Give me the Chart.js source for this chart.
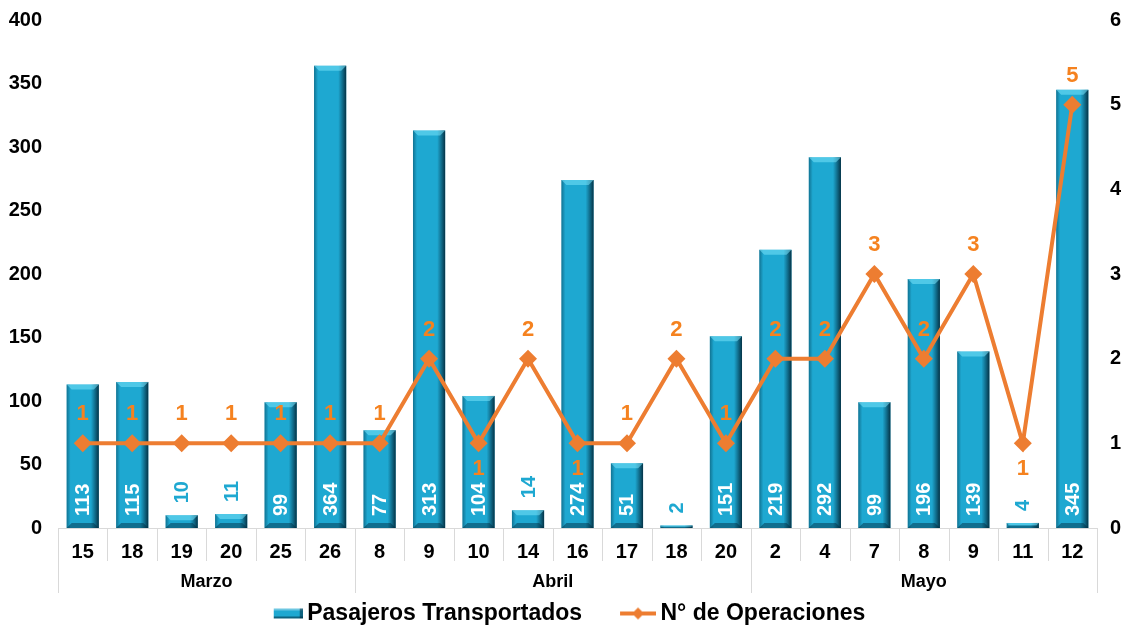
<!DOCTYPE html>
<html>
<head>
<meta charset="utf-8">
<script src="https://cdn.jsdelivr.net/npm/chart.js@4/dist/chart.umd.min.js"></script>
<style>
  html, body { margin: 0; padding: 0; background: #fff; }
  #wrap { width: 1127px; height: 629px; position: relative; }
</style>
</head>
<body>
<div id="wrap"><canvas id="myChart"></canvas></div>
<script>
const days = ['15', '18', '19', '20', '25', '26', '8', '9', '10', '14', '16', '17', '18', '20', '2', '4', '7', '8', '9', '11', '12'];
const months = ['Marzo', 'Abril', 'Mayo'];
const monthSizes = [6, 8, 7];
const pasajeros = [113, 115, 10, 11, 99, 364, 77, 313, 104, 14, 274, 51, 2, 151, 219, 292, 99, 196, 139, 4, 345];
const operaciones = [1, 1, 1, 1, 1, 1, 1, 2, 1, 2, 1, 1, 2, 1, 2, 2, 3, 2, 3, 1, 5];
// points whose label sits under the marker
const labelsBelow = [8, 10, 19];

const FONT = '"Liberation Sans", Arial, sans-serif';
const BAR_COLOR = '#1EA8D1';
const LINE_COLOR = '#ED7D31';
const LINE_LABEL_COLOR = '#F5821F';
const GRID_COLOR = '#D9D9D9';

function makeBarIcon() {
  const c = document.createElement('canvas');
  c.width = 48;
  c.height = 16;
  const g = c.getContext('2d');
  const x = 19, y = 3, w = 29, h = 10;
  g.fillStyle = BAR_COLOR;
  g.fillRect(x, y, w, h);
  g.fillStyle = 'rgba(255,255,255,0.35)';
  g.fillRect(x, y, w, 2);
  g.fillStyle = 'rgba(0,40,60,0.55)';
  g.fillRect(x, y + h - 2, w, 2);
  g.fillRect(x + w - 3, y, 3, h);
  return c;
}

function makeLineIcon() {
  const c = document.createElement('canvas');
  c.width = 48;
  c.height = 16;
  const g = c.getContext('2d');
  g.strokeStyle = LINE_COLOR;
  g.lineWidth = 4;
  g.beginPath();
  g.moveTo(12, 8);
  g.lineTo(48, 8);
  g.stroke();
  g.fillStyle = LINE_COLOR;
  g.beginPath();
  g.moveTo(30, 2);
  g.lineTo(36, 8);
  g.lineTo(30, 14);
  g.lineTo(24, 8);
  g.closePath();
  g.fill();
  return c;
}

// shading to give the bars the bevelled look
const barShade = {
  id: 'barShade',
  afterDatasetDraw(chart, args) {
    if (args.index !== 0) return;
    const ctx = chart.ctx;
    const meta = args.meta;
    ctx.save();
    meta.data.forEach(bar => {
      const left = bar.x - bar.width / 2;
      const right = bar.x + bar.width / 2;
      const top = bar.y;
      const bottom = bar.base;
      const h = bottom - top;
      if (h <= 0) return;
      const bev = Math.min(5, h / 2);
      let gr = ctx.createLinearGradient(right - 8, 0, right, 0);
      gr.addColorStop(0, 'rgba(0,40,60,0)');
      gr.addColorStop(1, 'rgba(0,30,45,0.85)');
      ctx.fillStyle = gr;
      ctx.fillRect(right - 8, top, 8, h);
      gr = ctx.createLinearGradient(left, 0, left + 4, 0);
      gr.addColorStop(0, 'rgba(0,50,70,0.45)');
      gr.addColorStop(1, 'rgba(0,50,70,0)');
      ctx.fillStyle = gr;
      ctx.fillRect(left, top, 4, h);
      ctx.fillStyle = 'rgba(120,225,250,0.55)';
      ctx.beginPath();
      ctx.moveTo(left, top);
      ctx.lineTo(right, top);
      ctx.lineTo(right - bev, top + bev);
      ctx.lineTo(left + bev, top + bev);
      ctx.closePath();
      ctx.fill();
      ctx.fillStyle = 'rgba(0,40,60,0.45)';
      ctx.beginPath();
      ctx.moveTo(left + bev, bottom - bev);
      ctx.lineTo(right - bev, bottom - bev);
      ctx.lineTo(right, bottom);
      ctx.lineTo(left, bottom);
      ctx.closePath();
      ctx.fill();
    });
    ctx.restore();
  }
};

// value labels for bars and line points
const valueLabels = {
  id: 'valueLabels',
  afterDatasetsDraw(chart) {
    const ctx = chart.ctx;
    ctx.save();
    ctx.font = 'bold 20px ' + FONT;
    const bars = chart.getDatasetMeta(0).data;
    bars.forEach((bar, i) => {
      const text = String(pasajeros[i]);
      const h = bar.base - bar.y;
      const tw = ctx.measureText(text).width;
      ctx.save();
      ctx.textBaseline = 'middle';
      ctx.textAlign = 'left';
      let start;
      if (h > tw + 20) {
        ctx.fillStyle = '#FFFFFF';
        start = bar.base - 12;
      } else {
        ctx.fillStyle = BAR_COLOR;
        start = bar.y - 12;
      }
      ctx.translate(bar.x, start);
      ctx.rotate(-Math.PI / 2);
      ctx.fillText(text, 0, 1);
      ctx.restore();
    });
    ctx.font = 'bold 22px ' + FONT;
    ctx.fillStyle = LINE_LABEL_COLOR;
    ctx.textAlign = 'center';
    ctx.textBaseline = 'middle';
    chart.getDatasetMeta(1).data.forEach((pt, i) => {
      const dy = labelsBelow.includes(i) ? 26 : -29;
      ctx.fillText(String(operaciones[i]), pt.x, pt.y + dy);
    });
    ctx.restore();
  }
};

// day separators and the month row under the axis
const monthAxis = {
  id: 'monthAxis',
  afterDraw(chart) {
    const ctx = chart.ctx;
    const xs = chart.scales.x;
    const base = chart.chartArea.bottom;
    const step = xs.getPixelForValue(1) - xs.getPixelForValue(0);
    const edge = i => xs.getPixelForValue(i) - step / 2;
    const monthStarts = [0];
    monthSizes.forEach((n, k) => monthStarts.push(monthStarts[k] + n));
    ctx.save();
    ctx.strokeStyle = GRID_COLOR;
    ctx.lineWidth = 1;
    for (let i = 0; i <= days.length; i++) {
      const x = Math.round(edge(i)) + 0.5;
      const isMonthEdge = monthStarts.includes(i);
      ctx.beginPath();
      ctx.moveTo(x, base);
      ctx.lineTo(x, isMonthEdge ? base + 65 : base + 33);
      ctx.stroke();
    }
    ctx.font = 'bold 18px ' + FONT;
    ctx.fillStyle = '#000';
    ctx.textAlign = 'center';
    ctx.textBaseline = 'middle';
    months.forEach((m, k) => {
      const x = (edge(monthStarts[k]) + edge(monthStarts[k + 1])) / 2;
      ctx.fillText(m, x, base + 54);
    });
    ctx.restore();
  }
};

function fixYAxis(width) {
  return scale => {
    scale.width = width;
    scale.paddingTop = 20;
    scale.paddingBottom = 12;
  };
}

const barIcon = makeBarIcon();
const lineIcon = makeLineIcon();

new Chart(document.getElementById('myChart'), {
  data: {
    labels: days,
    datasets: [{
      type: 'bar',
      label: 'Pasajeros Transportados',
      data: pasajeros,
      backgroundColor: BAR_COLOR,
      borderWidth: 0,
      barPercentage: 0.65,
      categoryPercentage: 1,
      yAxisID: 'y',
      order: 2
    }, {
      type: 'line',
      label: 'N° de Operaciones',
      data: operaciones,
      borderColor: LINE_COLOR,
      backgroundColor: LINE_COLOR,
      borderWidth: 4,
      pointStyle: 'rectRot',
      pointRadius: 9,
      pointBackgroundColor: LINE_COLOR,
      pointBorderColor: LINE_COLOR,
      pointBorderWidth: 0,
      tension: 0,
      yAxisID: 'y1',
      order: 1
    }]
  },
  options: {
    responsive: true,
    maintainAspectRatio: false,
    animation: false,
    layout: { padding: { top: 0, left: 0, right: 0, bottom: -6 } },
    scales: {
      x: {
        offset: true,
        grid: { display: false, drawTicks: false },
        border: { display: true, color: GRID_COLOR, width: 1 },
        ticks: {
          color: '#000',
          font: { family: FONT, size: 20, weight: 'bold' },
          padding: 12,
          maxRotation: 0,
          autoSkip: false
        },
        afterFit(scale) { scale.height = 73; }
      },
      y: {
        position: 'left',
        min: 0,
        max: 400,
        grid: { display: false, drawTicks: false },
        border: { display: false },
        ticks: {
          stepSize: 50,
          color: '#000',
          font: { family: FONT, size: 20, weight: 'bold' },
          padding: 16
        },
        afterFit: fixYAxis(58)
      },
      y1: {
        position: 'right',
        min: 0,
        max: 6,
        grid: { display: false, drawTicks: false },
        border: { display: false },
        ticks: {
          stepSize: 1,
          color: '#000',
          font: { family: FONT, size: 20, weight: 'bold' },
          padding: 13
        },
        afterFit: fixYAxis(30)
      }
    },
    plugins: {
      tooltip: { enabled: false },
      legend: {
        position: 'bottom',
        labels: {
          color: '#000',
          font: { family: FONT, size: 23, weight: 'bold' },
          usePointStyle: true,
          pointStyleWidth: 34,
          padding: 1,
          generateLabels(chart) {
            const items = Chart.defaults.plugins.legend.labels.generateLabels(chart);
            items.sort((a, b) => a.datasetIndex - b.datasetIndex);
            items.forEach(item => {
              if (item.datasetIndex === 0) {
                item.pointStyle = barIcon;
                item.text = item.text + '     ';
              } else {
                item.pointStyle = lineIcon;
              }
            });
            return items;
          }
        }
      }
    }
  },
  plugins: [barShade, valueLabels, monthAxis]
});
</script>
</body>
</html>
